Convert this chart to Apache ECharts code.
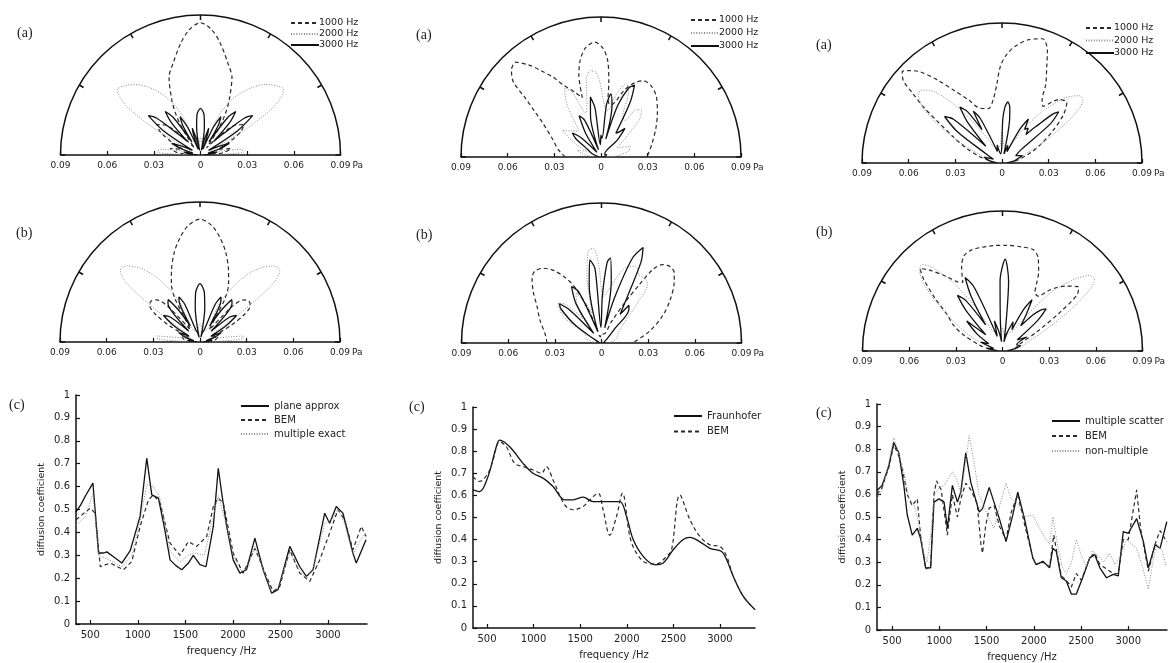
<!DOCTYPE html>
<html>
<head>
<meta charset="utf-8">
<title>Scattered pressure and diffusion coefficient</title>
<script src="https://cdn.jsdelivr.net/npm/echarts@6/dist/echarts.min.js"></script>
<style>
  html, body { margin: 0; padding: 0; background: #fff; }
  #chart { width: 1176px; height: 663px; }
</style>
</head>
<body>
<div id="chart"></div>
<script>
// polar responses, [angle from normal in degrees, pressure in Pa]
const polarNames = ['1000 Hz', '2000 Hz', '3000 Hz'];

const p1a_1000 = [[-90,0.006],[-84,0.015],[-78,0.02],[-72,0.012],[-66,0.02],[-60,0.03],[-55,0.034],[-50,0.03],[-45,0.018],[-40,0.006],[-37,0.012],[-34,0.022],[-31,0.031],[-27.5,0.040],[-22,0.054],[-17,0.061],[-10,0.073],[-5,0.081],[0,0.085],[5,0.081],[10,0.073],[17,0.061],[22,0.054],[27.5,0.040],[31,0.031],[34,0.022],[37,0.012],[40,0.006],[45,0.018],[50,0.03],[55,0.034],[60,0.03],[66,0.02],[72,0.012],[78,0.02],[84,0.015],[90,0.006]];
const p1a_2000 = [[-90,0.004],[-86,0.028],[-82,0.026],[-76,0.01],[-68,0.006],[-63,0.015],[-60,0.035],[-57,0.055],[-55,0.062],[-52,0.068],[-49,0.067],[-43,0.062],[-37,0.054],[-30,0.042],[-25,0.028],[-22,0.008],[-12,0.006],[0,0.012],[12,0.006],[22,0.008],[25,0.028],[30,0.042],[37,0.054],[43,0.062],[49,0.067],[52,0.068],[55,0.062],[57,0.055],[60,0.035],[63,0.015],[68,0.006],[76,0.01],[82,0.026],[86,0.028],[90,0.004]];
const p1a_3000 = [[-90,0.002],[-84,0.008],[-80,0.011],[-76,0.005],[-72,0.013],[-68,0.02],[-64,0.012],[-60,0.006],[-57,0.028],[-53,0.042],[-50,0.037],[-47,0.02],[-44,0.012],[-42,0.028],[-39,0.036],[-36,0.03],[-33,0.01],[-31,0.022],[-28,0.028],[-25,0.02],[-22,0.004],[-19,0.014],[-17,0.018],[-14,0.01],[-11,0.003],[-8,0.018],[-5,0.026],[0,0.030],[5,0.026],[8,0.018],[11,0.003],[14,0.01],[17,0.018],[19,0.014],[22,0.004],[25,0.02],[28,0.028],[31,0.022],[33,0.01],[36,0.03],[39,0.036],[42,0.028],[44,0.012],[47,0.02],[50,0.037],[53,0.042],[57,0.028],[60,0.006],[64,0.012],[68,0.02],[72,0.013],[76,0.005],[80,0.011],[84,0.008],[90,0.002]];

const p1b_1000 = [[-90,0.006],[-82,0.01],[-74,0.012],[-66,0.008],[-62,0.022],[-58,0.034],[-54,0.04],[-50,0.041],[-46,0.039],[-42,0.03],[-38,0.01],[-35,0.012],[-32,0.02],[-30,0.032],[-26,0.042],[-22,0.049],[-16,0.06],[-11,0.068],[-6,0.075],[0,0.079],[6,0.075],[11,0.068],[16,0.06],[22,0.049],[26,0.042],[30,0.032],[32,0.02],[35,0.012],[38,0.01],[42,0.03],[46,0.039],[50,0.041],[54,0.04],[58,0.034],[62,0.022],[66,0.008],[74,0.012],[82,0.01],[90,0.006]];
const p1b_2000 = [[-90,0.004],[-86,0.027],[-82,0.028],[-77,0.012],[-70,0.006],[-58,0.01],[-55,0.025],[-53,0.045],[-51,0.062],[-48,0.069],[-44,0.068],[-39,0.061],[-35,0.053],[-31,0.042],[-27,0.028],[-24,0.008],[-12,0.008],[0,0.012],[12,0.008],[24,0.008],[27,0.028],[31,0.042],[35,0.053],[39,0.061],[44,0.068],[48,0.069],[51,0.062],[53,0.045],[55,0.025],[58,0.01],[70,0.006],[77,0.012],[82,0.028],[86,0.027],[90,0.004]];
const p1b_3000 = [[-90,0.002],[-82,0.008],[-78,0.004],[-72,0.01],[-66,0.015],[-62,0.008],[-58,0.02],[-54,0.029],[-50,0.025],[-46,0.01],[-43,0.025],[-40,0.032],[-37,0.034],[-34,0.025],[-31,0.012],[-28,0.028],[-25,0.032],[-22,0.026],[-19,0.008],[-14,0.006],[-11,0.003],[-8,0.022],[-5,0.032],[0,0.0375],[5,0.032],[8,0.022],[11,0.003],[14,0.006],[19,0.008],[22,0.026],[25,0.032],[28,0.028],[31,0.012],[34,0.025],[37,0.034],[40,0.032],[43,0.025],[46,0.01],[50,0.025],[54,0.029],[58,0.02],[62,0.008],[66,0.015],[72,0.01],[78,0.004],[82,0.008],[90,0.002]];

const p2a_1000 = [[-90,0.023],[-80,0.028],[-70,0.033],[-60,0.043],[-55,0.053],[-52,0.062],[-49.5,0.074],[-46,0.080],[-42,0.082],[-38,0.075],[-35,0.068],[-31,0.06],[-27.5,0.052],[-22,0.045],[-17.5,0.040],[-15,0.055],[-12,0.064],[-8,0.071],[-3,0.074],[1,0.070],[4,0.062],[6,0.048],[7,0.037],[10,0.034],[14,0.036],[19,0.045],[24,0.052],[29,0.056],[35,0.056],[42,0.053],[52,0.046],[62,0.040],[75,0.034],[88,0.030],[90,0.029]];
const p2a_2000 = [[-90,0.005],[-80,0.012],[-74,0.016],[-68,0.01],[-62,0.02],[-55,0.03],[-48,0.025],[-40,0.022],[-33,0.040],[-28,0.050],[-24,0.046],[-19,0.03],[-15,0.035],[-11,0.050],[-7,0.056],[-3,0.054],[0,0.045],[3,0.035],[8,0.03],[14,0.042],[19,0.050],[23,0.045],[28,0.03],[33,0.028],[37,0.038],[41,0.040],[46,0.034],[52,0.02],[60,0.012],[70,0.02],[78,0.018],[86,0.01],[90,0.004]];
const p2a_3000 = [[-90,0.001],[-70,0.006],[-58,0.012],[-54,0.02],[-50,0.024],[-46,0.018],[-41,0.004],[-33,0.018],[-28,0.030],[-24,0.026],[-19,0.005],[-14,0.028],[-10,0.039],[-7,0.032],[-3,0.008],[0,0.014],[3,0.012],[6,0.034],[9,0.041],[12,0.034],[15,0.012],[18,0.035],[22,0.048],[25,0.051],[28,0.04],[32,0.018],[36,0.02],[40,0.024],[44,0.015],[50,0.003],[70,0.004],[90,0.001]];

const p2b_1000 = [[-90,0.035],[-80,0.037],[-70,0.042],[-60,0.048],[-53,0.055],[-47,0.061],[-43,0.063],[-38,0.061],[-33.5,0.056],[-29,0.048],[-26,0.041],[-22,0.026],[-18,0.01],[-10,0.004],[0,0.006],[15,0.006],[25,0.015],[30,0.03],[33,0.045],[35,0.058],[38,0.064],[42,0.066],[46,0.065],[50,0.061],[58,0.052],[66,0.043],[76,0.032],[90,0.020]];
const p2b_2000 = [[-90,0.004],[-75,0.01],[-62,0.012],[-55,0.03],[-48,0.038],[-43,0.034],[-38,0.02],[-32,0.03],[-27,0.036],[-22,0.028],[-17,0.02],[-12,0.045],[-8,0.06],[-5,0.061],[-2,0.05],[2,0.03],[8,0.035],[14,0.045],[19,0.052],[24,0.054],[29,0.05],[34,0.05],[38,0.048],[42,0.035],[48,0.02],[60,0.012],[75,0.01],[90,0.004]];
const p2b_3000 = [[-90,0.001],[-65,0.004],[-56,0.02],[-50,0.034],[-47,0.037],[-44,0.03],[-39,0.008],[-33,0.03],[-28,0.041],[-24,0.036],[-18,0.008],[-12,0.038],[-8,0.054],[-5,0.048],[-2,0.01],[1,0.03],[4,0.052],[6,0.055],[9,0.04],[12,0.01],[16,0.03],[20,0.058],[23.5,0.067],[26,0.058],[29,0.035],[33,0.022],[36,0.03],[39,0.028],[43,0.012],[55,0.004],[90,0.001]];

const p3a_1000 = [[-90,0.004],[-80,0.008],[-74.5,0.0145],[-68,0.024],[-62,0.035],[-57,0.05],[-54.5,0.062],[-52,0.073],[-50,0.083],[-47.5,0.087],[-45,0.084],[-42,0.079],[-38,0.068],[-33.5,0.056],[-28,0.046],[-22,0.038],[-14,0.036],[-8,0.041],[-4,0.05],[-1,0.062],[2,0.069],[6,0.075],[12,0.081],[18,0.084],[22,0.078],[25,0.068],[29,0.058],[32.5,0.048],[36,0.045],[42,0.055],[47,0.057],[52,0.05],[58,0.038],[64,0.028],[70,0.02],[80,0.01],[90,0.004]];
const p3a_2000 = [[-90,0.004],[-78,0.01],[-70,0.015],[-64,0.03],[-59,0.048],[-55,0.062],[-51,0.069],[-48,0.07],[-45,0.066],[-41,0.055],[-37,0.04],[-32,0.022],[-27,0.012],[-15,0.01],[-5,0.012],[0,0.02],[5,0.012],[15,0.01],[25,0.012],[32,0.025],[38,0.042],[44,0.058],[49,0.066],[52,0.066],[55,0.06],[59,0.045],[64,0.028],[70,0.015],[80,0.008],[90,0.004]];
const p3a_3000 = [[-90,0.003],[-80,0.008],[-72,0.012],[-66,0.006],[-60,0.012],[-55,0.035],[-51,0.0475],[-48,0.042],[-44,0.015],[-40,0.035],[-37,0.045],[-34,0.04],[-31,0.025],[-29,0.038],[-26,0.032],[-22,0.008],[-15,0.012],[-8,0.006],[-1,0.01],[1,0.028],[3,0.036],[5.5,0.0394],[8,0.036],[10,0.028],[12,0.006],[18,0.012],[24,0.008],[28,0.025],[31,0.033],[34,0.026],[37,0.028],[40,0.024],[43,0.032],[46,0.045],[48,0.049],[51,0.04],[55,0.015],[62,0.01],[70,0.014],[80,0.008],[90,0.003]];

const p3b_1000 = [[-90,0.004],[-82,0.008],[-76,0.015],[-67,0.028],[-62,0.036],[-57,0.042],[-52,0.055],[-47.5,0.069],[-45,0.075],[-42,0.07],[-37,0.06],[-33,0.053],[-30,0.051],[-26,0.06],[-22,0.066],[-17,0.068],[-12,0.068],[-5,0.068],[2,0.068],[10,0.068],[17,0.068],[21,0.064],[24.5,0.056],[27,0.048],[29,0.043],[33,0.042],[38,0.05],[44,0.058],[50,0.064],[53,0.06],[56,0.045],[61,0.025],[68,0.012],[80,0.008],[90,0.004]];
const p3b_2000 = [[-90,0.004],[-80,0.01],[-72,0.012],[-64,0.025],[-56,0.045],[-50,0.065],[-46,0.074],[-43,0.076],[-40,0.07],[-36,0.055],[-32,0.035],[-27,0.015],[-18,0.012],[-8,0.01],[0,0.015],[8,0.01],[18,0.012],[28,0.015],[35,0.03],[40,0.05],[45,0.065],[49,0.074],[52,0.075],[55,0.068],[59,0.05],[64,0.03],[70,0.018],[80,0.01],[90,0.004]];
const p3b_3000 = [[-90,0.003],[-80,0.01],[-74,0.006],[-68,0.015],[-62,0.01],[-56,0.02],[-50,0.03],[-46,0.015],[-42,0.035],[-39,0.046],[-36,0.04],[-33,0.02],[-30,0.04],[-27,0.053],[-24,0.045],[-20,0.01],[-15,0.02],[-10,0.012],[-6,0.006],[-4,0.02],[-2,0.045],[1.7,0.059],[5,0.045],[7,0.02],[9,0.006],[14,0.012],[20,0.02],[24,0.015],[27,0.03],[30,0.038],[33,0.028],[36,0.02],[40,0.03],[43,0.036],[46,0.039],[49,0.03],[53,0.012],[60,0.018],[66,0.01],[74,0.012],[82,0.006],[90,0.003]];

// diffusion coefficient, [frequency Hz, coefficient]
const freqTicks = [500, 1000, 1500, 2000, 2500, 3000];

const c1Names = ['plane approx', 'BEM', 'multiple exact'];
const c1_plane = [[350,0.49],[400,0.52],[450,0.56],[528,0.615],[587,0.31],[640,0.31],[675,0.315],[740,0.295],[832,0.266],[920,0.32],[1024,0.47],[1094,0.724],[1147,0.564],[1217,0.55],[1280,0.42],[1339,0.28],[1400,0.255],[1462,0.237],[1530,0.265],[1584,0.30],[1654,0.259],[1717,0.25],[1794,0.426],[1846,0.68],[1890,0.55],[1934,0.426],[2003,0.28],[2073,0.222],[2143,0.237],[2231,0.375],[2318,0.237],[2406,0.135],[2475,0.15],[2598,0.339],[2703,0.25],[2773,0.208],[2843,0.237],[2965,0.484],[3017,0.44],[3087,0.513],[3157,0.484],[3262,0.31],[3297,0.266],[3400,0.368]];
const c1_bem = [[350,0.455],[500,0.506],[552,0.484],[605,0.25],[710,0.266],[850,0.237],[937,0.273],[1024,0.426],[1112,0.542],[1164,0.564],[1234,0.528],[1339,0.353],[1444,0.30],[1531,0.36],[1619,0.339],[1724,0.382],[1794,0.513],[1846,0.55],[1899,0.528],[2003,0.31],[2108,0.222],[2231,0.33],[2353,0.208],[2423,0.142],[2493,0.164],[2598,0.324],[2703,0.222],[2808,0.186],[2913,0.28],[3017,0.397],[3105,0.499],[3175,0.455],[3262,0.324],[3350,0.426],[3400,0.382]];
const c1_exact = [[350,0.43],[450,0.47],[528,0.57],[587,0.30],[700,0.28],[832,0.25],[937,0.30],[1024,0.45],[1094,0.61],[1164,0.60],[1234,0.55],[1339,0.32],[1444,0.27],[1531,0.30],[1600,0.31],[1700,0.30],[1794,0.47],[1846,0.56],[1934,0.43],[2003,0.30],[2090,0.23],[2160,0.25],[2231,0.34],[2318,0.24],[2406,0.14],[2475,0.16],[2598,0.31],[2703,0.23],[2773,0.20],[2843,0.24],[2965,0.44],[3050,0.46],[3105,0.50],[3175,0.44],[3262,0.30],[3330,0.36],[3400,0.40]];

const c2Names = ['Fraunhofer', 'BEM'];
const c2_fraun = [[350,0.625],[421,0.617],[511,0.685],[600,0.82],[636,0.85],[744,0.82],[887,0.745],[994,0.70],[1102,0.678],[1209,0.64],[1334,0.58],[1424,0.58],[1532,0.592],[1639,0.572],[1782,0.572],[1925,0.572],[1997,0.505],[2069,0.40],[2176,0.324],[2302,0.286],[2391,0.294],[2499,0.354],[2606,0.40],[2678,0.41],[2785,0.39],[2893,0.36],[3018,0.346],[3072,0.309],[3143,0.233],[3251,0.143],[3376,0.083]];
const c2_bem = [[350,0.685],[421,0.663],[511,0.70],[565,0.76],[636,0.843],[708,0.82],[797,0.745],[887,0.73],[994,0.715],[1084,0.70],[1137,0.73],[1209,0.67],[1334,0.557],[1424,0.535],[1532,0.55],[1603,0.58],[1693,0.61],[1746,0.535],[1818,0.42],[1890,0.505],[1954,0.61],[2033,0.414],[2104,0.339],[2212,0.294],[2320,0.29],[2427,0.324],[2481,0.354],[2570,0.602],[2678,0.49],[2785,0.414],[2893,0.376],[3000,0.369],[3072,0.324],[3143,0.233],[3251,0.143],[3376,0.083]];

const c3Names = ['multiple scatter', 'BEM', 'non-multiple'];
const c3_multi = [[340,0.617],[394,0.64],[465,0.726],[518,0.83],[571,0.784],[624,0.64],[660,0.51],[713,0.42],[766,0.45],[801,0.406],[855,0.275],[908,0.275],[943,0.566],[996,0.58],[1050,0.566],[1085,0.45],[1138,0.64],[1191,0.566],[1227,0.61],[1280,0.784],[1333,0.653],[1422,0.522],[1457,0.537],[1528,0.631],[1635,0.493],[1706,0.391],[1777,0.508],[1830,0.61],[1901,0.493],[1989,0.319],[2025,0.289],[2096,0.304],[2167,0.275],[2202,0.362],[2238,0.348],[2291,0.231],[2344,0.217],[2397,0.159],[2450,0.159],[2504,0.217],[2592,0.319],[2645,0.333],[2699,0.275],[2770,0.231],[2840,0.246],[2894,0.239],[2947,0.435],[3000,0.428],[3089,0.493],[3160,0.391],[3213,0.275],[3284,0.377],[3337,0.362],[3408,0.479]];
const c3_bem = [[340,0.60],[394,0.63],[465,0.72],[518,0.82],[571,0.77],[624,0.68],[660,0.60],[713,0.55],[766,0.58],[801,0.42],[855,0.27],[908,0.28],[943,0.60],[970,0.66],[1020,0.62],[1085,0.42],[1138,0.60],[1191,0.50],[1227,0.58],[1280,0.65],[1333,0.62],[1400,0.56],[1440,0.38],[1457,0.34],[1490,0.46],[1528,0.54],[1580,0.55],[1635,0.46],[1706,0.40],[1760,0.52],[1830,0.60],[1901,0.47],[1989,0.32],[2025,0.29],[2096,0.30],[2167,0.28],[2211,0.42],[2250,0.33],[2291,0.24],[2344,0.22],[2397,0.19],[2450,0.25],[2504,0.22],[2592,0.32],[2645,0.34],[2699,0.29],[2770,0.27],[2840,0.25],[2894,0.25],[2947,0.40],[3000,0.40],[3089,0.62],[3130,0.45],[3213,0.26],[3284,0.38],[3337,0.44],[3408,0.39]];
const c3_non = [[340,0.58],[394,0.62],[465,0.74],[518,0.85],[571,0.78],[624,0.70],[680,0.58],[730,0.56],[780,0.47],[830,0.35],[870,0.30],[908,0.42],[950,0.60],[996,0.63],[1050,0.64],[1138,0.70],[1191,0.66],[1230,0.60],[1290,0.78],[1316,0.86],[1360,0.76],[1420,0.60],[1470,0.55],[1528,0.49],[1580,0.45],[1640,0.55],[1706,0.65],[1760,0.58],[1830,0.56],[1901,0.50],[1989,0.51],[2060,0.45],[2130,0.40],[2167,0.38],[2202,0.50],[2250,0.38],[2300,0.28],[2344,0.25],[2400,0.30],[2450,0.40],[2504,0.33],[2560,0.28],[2620,0.35],[2680,0.33],[2740,0.30],[2800,0.34],[2860,0.29],[2920,0.33],[2980,0.40],[3040,0.38],[3089,0.36],[3150,0.28],[3213,0.18],[3260,0.30],[3300,0.38],[3360,0.35],[3400,0.28]];

const FONT = 'DejaVu Sans, Verdana, sans-serif';
const SERIF = 'Liberation Serif, Times New Roman, serif';
const R = 140;

const styleDash = { color: '#2a2a2a', type: [4, 3], width: 1.2 };
const styleDot = { color: '#8c8c8c', type: [1, 1.6], width: 1 };
const styleSolid = { color: '#111', type: 'solid', width: 1.3 };
const polarStyles = [styleDash, styleDot, styleSolid];

const polarPanels = [
  { cx: 200.5, cy: 155, curves: [p1a_1000, p1a_2000, p1a_3000], tag: '(a)', tx: 17, ty: 33, legend: { left: 290, top: 18, gap: 1 } },
  { cx: 200, cy: 342, curves: [p1b_1000, p1b_2000, p1b_3000], tag: '(b)', tx: 16, ty: 233 },
  { cx: 601, cy: 157, curves: [p2a_1000, p2a_2000, p2a_3000], tag: '(a)', tx: 416, ty: 35, legend: { left: 690, top: 15, gap: 3 } },
  { cx: 601.5, cy: 343, curves: [p2b_1000, p2b_2000, p2b_3000], tag: '(b)', tx: 416, ty: 235 },
  { cx: 1002, cy: 163, curves: [p3a_1000, p3a_2000, p3a_3000], tag: '(a)', tx: 816, ty: 45, legend: { left: 1085, top: 23, gap: 2.5 } },
  { cx: 1002.5, cy: 351, curves: [p3b_1000, p3b_2000, p3b_3000], tag: '(b)', tx: 816, ty: 232 }
];

const linePanels = [
  { left: 76, top: 395, width: 291, height: 229, min: 350, max: 3410, nameGap: 29,
    names: c1Names, curves: [c1_plane, c1_bem, c1_exact], styles: [styleSolid, styleDash, styleDot],
    tag: '(c)', tx: 9, ty: 405, legend: { left: 240, top: 401, gap: 4 } },
  { left: 473, top: 407, width: 282, height: 221, min: 350, max: 3376, nameGap: 29,
    names: c2Names, curves: [c2_fraun, c2_bem], styles: [styleSolid, styleDash], smooth: 0.35,
    tag: '(c)', tx: 409, ty: 407, legend: { left: 673, top: 411, gap: 5.5 } },
  { left: 877, top: 404, width: 290, height: 228, min: 340, max: 3410, nameGap: 29,
    names: c3Names, curves: [c3_multi, c3_bem, c3_non], styles: [styleSolid, styleDash, styleDot],
    tag: '(c)', tx: 816, ty: 413, legend: { left: 1051, top: 416, gap: 5 } }
];

const option = {
  backgroundColor: '#fff',
  animation: false,
  polar: [], angleAxis: [], radiusAxis: [],
  grid: [], xAxis: [], yAxis: [],
  legend: [], series: [], graphic: []
};

const axisLineStyle = { color: '#111', width: 1.5 };

function tagText(text, x, y) {
  return { type: 'text', x: x, y: y, silent: true,
    style: { text: text, font: '14px ' + SERIF, fill: '#222', textVerticalAlign: 'middle' } };
}

polarPanels.forEach((p, i) => {
  option.polar.push({ center: [p.cx, p.cy], radius: R });
  option.angleAxis.push({
    polarIndex: i, type: 'value', min: -90, max: 90, interval: 30,
    startAngle: 180, endAngle: 0, clockwise: true,
    axisLine: { lineStyle: axisLineStyle },
    axisTick: { inside: true, length: 5, lineStyle: axisLineStyle },
    axisLabel: { show: false }, splitLine: { show: false }, splitArea: { show: false }
  });
  option.radiusAxis.push({
    polarIndex: i, type: 'value', min: 0, max: 0.09, show: false,
    splitLine: { show: false }
  });
  option.grid.push({ left: p.cx - R, top: p.cy - R, width: 2 * R, height: R });
  option.xAxis.push({
    gridIndex: i, type: 'value', min: -0.09, max: 0.09, interval: 0.03,
    axisLine: { lineStyle: axisLineStyle },
    axisTick: { inside: true, length: 4, lineStyle: { color: '#111', width: 1.2 } },
    axisLabel: {
      fontSize: 9, fontFamily: FONT, color: '#222', margin: 6,
      showMinLabel: true, showMaxLabel: true,
      formatter: v => { const a = Math.abs(v); return a < 1e-9 ? '0' : a.toFixed(2); }
    },
    splitLine: { show: false }
  });
  option.yAxis.push({ gridIndex: i, type: 'value', min: 0, max: 1, show: false });
  p.curves.forEach((c, k) => {
    option.series.push({
      type: 'line', name: polarNames[k], coordinateSystem: 'polar', polarIndex: i,
      data: c.map(d => [d[1], d[0]]),
      symbol: 'none', smooth: 0.3, silent: true,
      lineStyle: polarStyles[k], itemStyle: { color: polarStyles[k].color }
    });
  });
  option.graphic.push(tagText(p.tag, p.tx, p.ty));
  option.graphic.push({ type: 'text', x: p.cx + R + 12, y: p.cy + 11, silent: true,
    style: { text: 'Pa', font: '9px ' + FONT, fill: '#222', textVerticalAlign: 'middle' } });
  if (p.legend) {
    option.legend.push({
      data: polarNames, orient: 'vertical', left: p.legend.left, top: p.legend.top,
      padding: 0, itemGap: p.legend.gap, itemWidth: 28, itemHeight: 10,
      selectedMode: false, itemStyle: { opacity: 0 },
      textStyle: { fontSize: 9.5, fontFamily: FONT, color: '#222', padding: [0, 0, 0, -5] }
    });
  }
});

linePanels.forEach((p, j) => {
  const gi = polarPanels.length + j;
  option.grid.push({ left: p.left, top: p.top, width: p.width, height: p.height });
  option.xAxis.push({
    gridIndex: gi, type: 'value', min: p.min, max: p.max,
    name: 'frequency /Hz', nameLocation: 'middle', nameGap: 22,
    nameTextStyle: { fontSize: 10, fontFamily: FONT, color: '#222' },
    axisLine: { show: true, lineStyle: axisLineStyle },
    axisTick: { show: true, inside: true, length: 4, customValues: freqTicks, lineStyle: { color: '#111', width: 1.2 } },
    axisLabel: { customValues: freqTicks, fontSize: 10, fontFamily: FONT, color: '#222', margin: 6,
      formatter: v => String(v) },
    splitLine: { show: false }
  });
  option.yAxis.push({
    gridIndex: gi, type: 'value', min: 0, max: 1, interval: 0.1,
    name: 'diffusion coefficient', nameLocation: 'middle', nameGap: p.nameGap,
    nameTextStyle: { fontSize: 9.5, fontFamily: FONT, color: '#222' },
    axisLine: { show: true, lineStyle: axisLineStyle },
    axisTick: { show: true, inside: true, length: 4, lineStyle: { color: '#111', width: 1.2 } },
    axisLabel: { fontSize: 10, fontFamily: FONT, color: '#222', margin: 6 },
    splitLine: { show: false }
  });
  p.curves.forEach((c, k) => {
    option.series.push({
      type: 'line', name: p.names[k], xAxisIndex: gi, yAxisIndex: gi,
      data: c, symbol: 'none', smooth: p.smooth || false, silent: true,
      lineStyle: p.styles[k], itemStyle: { color: p.styles[k].color }
    });
  });
  option.legend.push({
    data: p.names, orient: 'vertical', left: p.legend.left, top: p.legend.top,
    padding: 0, itemGap: p.legend.gap, itemWidth: 28, itemHeight: 10,
    selectedMode: false, itemStyle: { opacity: 0 },
    textStyle: { fontSize: 10, fontFamily: FONT, color: '#222' }
  });
  option.graphic.push(tagText(p.tag, p.tx, p.ty));
});

const chart = echarts.init(document.getElementById('chart'));
chart.setOption(option);
</script>
</body>
</html>
